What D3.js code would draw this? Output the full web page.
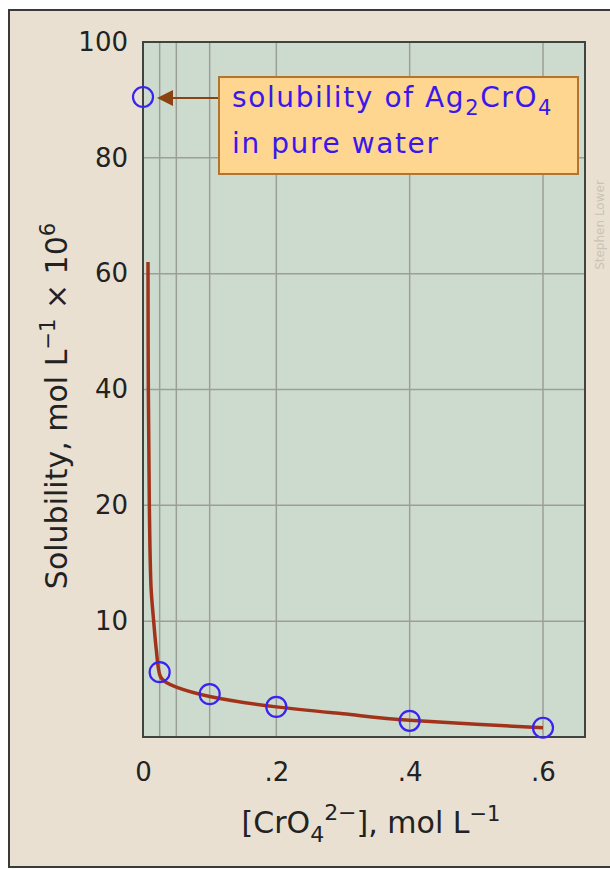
<!DOCTYPE html>
<html>
<head>
<meta charset="utf-8">
<script src="https://cdn.jsdelivr.net/npm/d3@7"></script>
<style>
  body { margin: 0; background: #fff; }
  text { font-family: "DejaVu Sans", sans-serif; }
</style>
</head>
<body>
<svg></svg>
<script>
const width = 610;
const height = 869;

// measured points (blue circles)
const pointX = [0, 0.025, 0.1, 0.2, 0.4, 0.6];
const pointY = [90.5, 5.6, 3.7, 2.6, 1.4, 0.8];

// fitted curve
const curveX = [0.0075, 0.008, 0.0095, 0.012, 0.016, 0.02, 0.025, 0.035, 0.05, 0.1, 0.2, 0.3, 0.4, 0.5, 0.6];
const curveY = [62, 40, 20, 13, 10, 7.5, 5.4, 4.7, 4.3, 3.5, 2.6, 2.0, 1.45, 1.1, 0.8];

const xTicks = [0, 0.2, 0.4, 0.6];
const xTickLabels = ['0', '.2', '.4', '.6'];
const xGrid = [0.025, 0.05, 0.1, 0.2, 0.4, 0.6];
const yTicks = [10, 20, 40, 60, 80, 100];
const yGrid = [10, 20, 40, 60, 80];
// the y axis is not linear: each labelled step gets the same space
const yBreaks = [0, 10, 20, 40, 60, 80, 100];

const plot = {left: 143, top: 42, right: 585, bottom: 737};

const svg = d3.select('svg')
    .attr('width', width).attr('height', height);

const x = d3.scaleLinear()
    .domain([0, 0.6])
    .range([plot.left, 543]);

const y = d3.scaleLinear()
    .domain(yBreaks)
    .range(yBreaks.map((d, i) => plot.bottom - i * (plot.bottom - plot.top) / (yBreaks.length - 1)));

// page background and frame
svg.append('rect')
    .attr('x', 9).attr('y', 10)
    .attr('width', 640).attr('height', 857)
    .style('fill', '#e9e0d1')
    .style('stroke', '#3a3a3a')
    .style('stroke-width', 2);

// plot area
svg.append('rect')
    .attr('x', plot.left).attr('y', plot.top)
    .attr('width', plot.right - plot.left).attr('height', plot.bottom - plot.top)
    .style('fill', '#cddbce');

// grid
svg.append('g').selectAll('line')
    .data(xGrid)
    .enter().append('line')
    .attr('x1', d => x(d)).attr('x2', d => x(d))
    .attr('y1', plot.top).attr('y2', plot.bottom)
    .style('stroke', '#9c9e9a')
    .style('stroke-width', 1.5);

svg.append('g').selectAll('line')
    .data(yGrid)
    .enter().append('line')
    .attr('x1', plot.left).attr('x2', plot.right)
    .attr('y1', d => y(d)).attr('y2', d => y(d))
    .style('stroke', '#9c9e9a')
    .style('stroke-width', 1.5);

// plot border
svg.append('rect')
    .attr('x', plot.left).attr('y', plot.top)
    .attr('width', plot.right - plot.left).attr('height', plot.bottom - plot.top)
    .style('fill', 'none')
    .style('stroke', '#3f4440')
    .style('stroke-width', 2);

// axes
const xAxis = svg.append('g')
    .attr('transform', `translate(0,${plot.bottom})`)
    .call(d3.axisBottom(x).tickValues(xTicks).tickFormat((d, i) => xTickLabels[i]).tickSize(0).tickPadding(26));
const yAxis = svg.append('g')
    .attr('transform', `translate(${plot.left},0)`)
    .call(d3.axisLeft(y).tickValues(yTicks).tickFormat(d3.format('d')).tickSize(0).tickPadding(15));
[xAxis, yAxis].forEach(g => {
    g.select('.domain').remove();
    g.selectAll('text')
        .style('font-family', '"DejaVu Sans", sans-serif')
        .style('font-size', '26px')
        .style('fill', '#222');
});

// curve
const line = d3.line()
    .x(d => x(d[0]))
    .y(d => y(d[1]))
    .curve(d3.curveMonotoneY);

svg.append('path')
    .datum(d3.zip(curveX, curveY))
    .attr('d', line)
    .style('fill', 'none')
    .style('stroke', '#a2331b')
    .style('stroke-width', 3.5)
    .style('stroke-linejoin', 'round');

// points
svg.append('g').selectAll('circle')
    .data(d3.zip(pointX, pointY))
    .enter().append('circle')
    .attr('cx', d => x(d[0]))
    .attr('cy', d => y(d[1]))
    .attr('r', 10)
    .style('fill', 'none')
    .style('stroke', '#3a22f0')
    .style('stroke-width', 2.2);

// callout arrow
const arrowY = y(pointY[0]) + 1;
svg.append('line')
    .attr('x1', 218).attr('y1', arrowY)
    .attr('x2', 170).attr('y2', arrowY)
    .style('stroke', '#8a4412')
    .style('stroke-width', 2);

svg.append('path')
    .attr('d', `M173,${arrowY - 8} L157,${arrowY} L173,${arrowY + 8} Z`)
    .style('fill', '#8a4412');

svg.append('rect')
    .attr('x', 219).attr('y', 77)
    .attr('width', 359).attr('height', 97)
    .style('fill', '#fed68f')
    .style('stroke', '#b4732f')
    .style('stroke-width', 2);

const note = svg.append('text')
    .attr('x', 232).attr('y', 107)
    .style('font-size', '28px')
    .style('letter-spacing', '1.6px')
    .style('fill', '#3a18ec');
note.append('tspan').text('solubility of Ag');
note.append('tspan').attr('dy', 8).style('font-size', '21px').text('2');
note.append('tspan').attr('dy', -8).text('CrO');
note.append('tspan').attr('dy', 8).style('font-size', '21px').text('4');
svg.append('text')
    .attr('x', 232).attr('y', 153)
    .style('font-size', '28px')
    .style('letter-spacing', '1.6px')
    .style('fill', '#3a18ec')
    .text('in pure water');

// axis titles
const yTitle = svg.append('text')
    .attr('transform', 'translate(67,406) rotate(-90)')
    .attr('text-anchor', 'middle')
    .style('font-size', '30px')
    .style('fill', '#222');
yTitle.append('tspan').text('Solubility, mol L');
yTitle.append('tspan').attr('dy', -12).style('font-size', '21px').text('\u22121');
yTitle.append('tspan').attr('dy', 12).text(' \u00d7 10');
yTitle.append('tspan').attr('dy', -12).style('font-size', '21px').text('6');

const xTitle = svg.append('text')
    .attr('x', 371).attr('y', 833)
    .attr('text-anchor', 'middle')
    .style('font-size', '30px')
    .style('fill', '#222');
xTitle.append('tspan').text('[CrO');
xTitle.append('tspan').attr('dy', 9).style('font-size', '22px').text('4');
xTitle.append('tspan').attr('dy', -22).style('font-size', '22px').text('2\u2212');
xTitle.append('tspan').attr('dy', 13).text('], mol L');
xTitle.append('tspan').attr('dy', -12).style('font-size', '21px').text('\u22121');

// credit
svg.append('text')
    .attr('transform', 'translate(604,225) rotate(-90)')
    .attr('text-anchor', 'middle')
    .style('font-size', '12px')
    .style('fill', '#cbc3b7')
    .text('Stephen Lower');
</script>
</body>
</html>
